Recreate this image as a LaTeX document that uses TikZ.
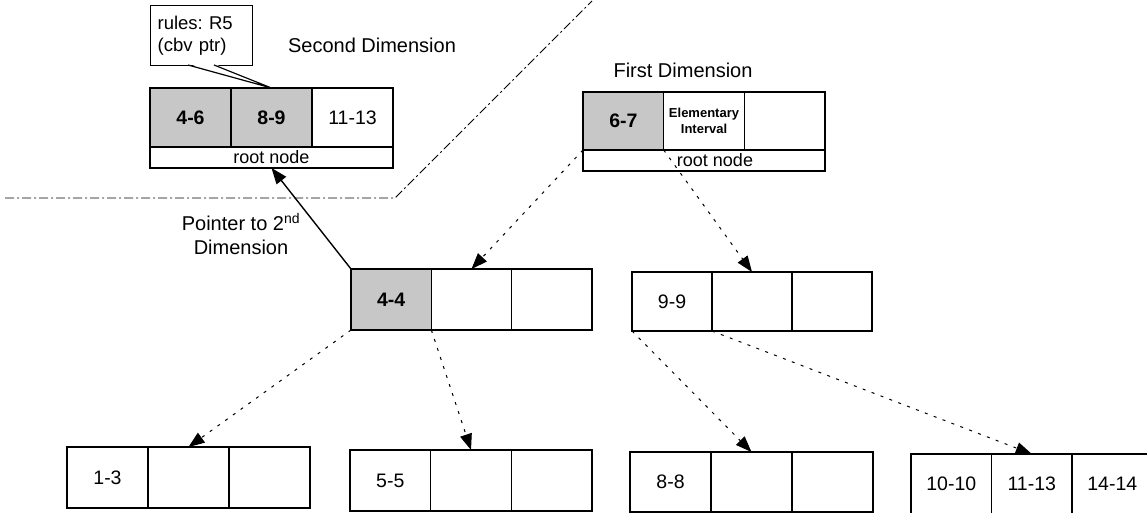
\documentclass[tikz,border=0pt]{standalone}
\usepackage{fontspec}
\setmainfont{Liberation Sans}
\usetikzlibrary{arrows.meta,calc}

\newcommand{\cellfont}{\fontsize{19.5}{23}\selectfont}
\newcommand{\barfont}{\fontsize{18}{21}\selectfont}
\newcommand{\capfont}{\fontsize{20}{24}\selectfont}
\newcommand{\notefont}{\fontsize{18.5}{22}\selectfont}
\newcommand{\tagfont}{\fontsize{13}{16}\selectfont\bfseries}

\tikzset{
  cellbox/.style n args={2}{draw=black, line width=1.3pt, inner sep=0pt, outer sep=0pt,
    anchor=north west, minimum width=#1, minimum height=#2, font=\cellfont},
  shadedcell/.style={fill=black!22, font=\cellfont\bfseries},
  rootbar/.style={draw=black, line width=1.3pt, inner sep=0pt, outer sep=0pt,
    anchor=north west, minimum height=21pt, font=\barfont},
  caption/.style={font=\capfont, inner sep=0pt},
  treeptr/.style={line width=1pt, dash pattern=on 3pt off 6.5pt,
    -{Triangle[length=16pt,width=12pt]}},
  dimptr/.style={line width=1.4pt, -{Triangle[length=16pt,width=12pt]}},
  boundary/.style={line width=0.8pt, dash pattern=on 9pt off 3pt on 2pt off 3pt},
  notebox/.style={draw=black, line width=1.3pt, fill=white, anchor=north west,
    minimum width=102pt, minimum height=60pt, inner sep=6pt, align=left,
    font=\notefont, text width=88pt}
}

\begin{document}
\frenchspacing
\begin{tikzpicture}[x=1pt, y=-1pt]
  \clip (0,0) rectangle (1147,513);
  \useasboundingbox (0,0) rectangle (1147,513);

  % boundary between the two dimensions
  \coordinate (bL) at (5,198);
  \coordinate (bC) at (395,198);
  \coordinate (bT) at (592,1);
  \draw[boundary] (bL) -- (bC) -- (bT);

  % ---------- second dimension: root node ----------
  \begin{scope}[every node/.style={cellbox={81pt}{59pt}}]
    \node[shadedcell] (s1) at (150,88) {4-6};
    \node[shadedcell] (s2) at (s1.north east) {8-9};
    \node (s3) at (s2.north east) {11-13};
  \end{scope}
  \node[rootbar, minimum width=243pt] (sroot) at (s1.south west) {root node};
  \node[caption] (sdim) at (372,45) {Second Dimension};

  % rule annotation with its pointer
  \node[notebox] (note) at (150,5) {rules: R5\\(cbv ptr)};
  \coordinate (tailA) at (188,65);
  \coordinate (tailB) at (214,65);
  \fill[white] ($(tailA)+(0,-1.2)$) -- (s2.north) -- ($(tailB)+(0,-1.2)$) -- cycle;
  \draw[line width=1.2pt] (tailA) -- (s2.north) -- (tailB);

  % ---------- first dimension: root node ----------
  \begin{scope}[every node/.style={cellbox={80.67pt}{58pt}}]
    \node[shadedcell] (f1) at (583,92) {6-7};
    \node[align=center, font=\tagfont] (f2) at (f1.north east) {Elementary\\Interval};
    \node (f3) at (f2.north east) {};
  \end{scope}
  \node[rootbar, minimum width=242pt] (froot) at (f1.south west) {\hspace*{22pt}root node};
  \node[caption] (fdim) at (683,70) {First Dimension};

  % ---------- second level ----------
  \begin{scope}[every node/.style={cellbox={80.33pt}{61pt}}]
    \node[shadedcell] (m1) at (351,269) {4-4};
    \node (m2) at (m1.north east) {};
    \node (m3) at (m2.north east) {};
  \end{scope}
  \begin{scope}[every node/.style={cellbox={80pt}{59pt}}]
    \node (n1) at (632,272) {9-9};
    \node (n2) at (n1.north east) {};
    \node (n3) at (n2.north east) {};
  \end{scope}

  % ---------- leaves ----------
  \begin{scope}[every node/.style={cellbox={81pt}{61pt}}]
    \node (a1) at (67,447) {1-3};
    \node (a2) at (a1.north east) {};
    \node (a3) at (a2.north east) {};
  \end{scope}
  \begin{scope}[every node/.style={cellbox={80.67pt}{61pt}}]
    \node (b1) at (350,450) {5-5};
    \node (b2) at (b1.north east) {};
    \node (b3) at (b2.north east) {};
  \end{scope}
  \begin{scope}[every node/.style={cellbox={81pt}{60pt}}]
    \node (c1) at (630,452) {8-8};
    \node (c2) at (c1.north east) {};
    \node (c3) at (c2.north east) {};
  \end{scope}
  \begin{scope}[every node/.style={cellbox={80.5pt}{60pt}}]
    \node (d1) at (911,454) {10-10};
    \node (d2) at (d1.north east) {11-13};
    \node (d3) at (d2.north east) {14-14};
  \end{scope}

  % ---------- tree pointers ----------
  \draw[treeptr] (f1.south west) -- (m2.north);
  \draw[treeptr] (f1.south east) -- (n2.north);
  \draw[treeptr] (m1.south west) -- (a2.north);
  \draw[treeptr] (m1.south east) -- (b2.north);
  \draw[treeptr] (n1.south west) -- (c2.north);
  \draw[treeptr] (n1.south east) -- (d2.north);

  % pointer into the second dimension
  \draw[dimptr] (m1.north west) -- (sroot.south);
  \node[caption, align=center] (plabel) at (241,234) {Pointer to 2\textsuperscript{nd}\\Dimension};
\end{tikzpicture}
\end{document}
